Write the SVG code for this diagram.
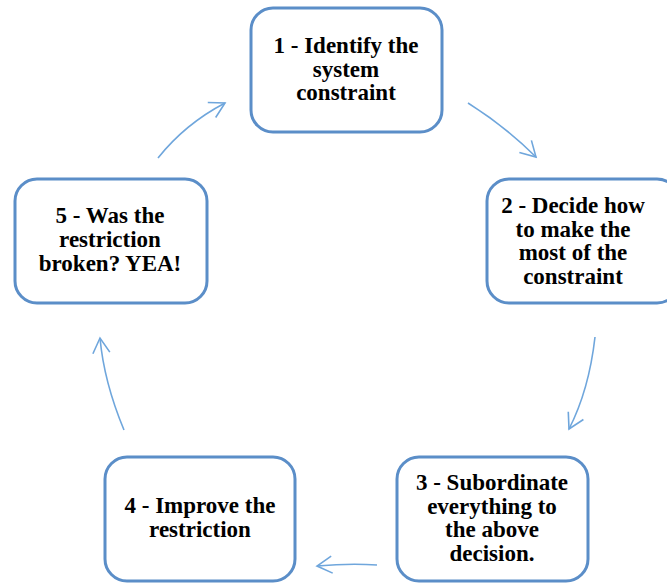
<svg xmlns="http://www.w3.org/2000/svg" width="667" height="583" viewBox="0 0 667 583">
<defs>
<style>
.box{fill:#ffffff;stroke:#5b8ec8;stroke-width:3}
.lbl{font-family:'Liberation Serif','Times New Roman',serif;font-weight:bold;font-size:23px;fill:#000000;text-anchor:middle}
.conn{fill:none;stroke:#6fa6dc;stroke-width:1.6}
</style>
<marker id="ah" markerUnits="userSpaceOnUse" markerWidth="40" markerHeight="40" refX="0" refY="0" viewBox="-20 -20 40 40" orient="auto" overflow="visible">
<path d="M-15,-8.5 L0,0 L-15,8.5" fill="none" stroke="#6fa6dc" stroke-width="1.6"/>
</marker>
</defs>
<rect width="667" height="583" fill="#ffffff"/>
<g id="connectors">
<path class="conn" d="M468,103 Q506,127 536,157" marker-end="url(#ah)"/>
<path class="conn" d="M595,337 Q589,390 569,429" marker-end="url(#ah)"/>
<path class="conn" d="M377,565 Q350,563 317,566" marker-end="url(#ah)"/>
<path class="conn" d="M124,430 Q104,382 100,338" marker-end="url(#ah)"/>
<path class="conn" d="M158,158 Q185,124 225,103" marker-end="url(#ah)"/>
</g>
<g id="node1">
<rect class="box" x="251" y="8" width="191" height="124" rx="22"/>
<text class="lbl" x="346" y="53">1 - Identify the</text>
<text class="lbl" x="346" y="77">system</text>
<text class="lbl" x="346" y="100">constraint</text>
</g>
<g id="node2">
<rect class="box" x="487" y="179" width="192" height="124" rx="22"/>
<text class="lbl" x="573" y="213">2 - Decide how</text>
<text class="lbl" x="573" y="237">to make the</text>
<text class="lbl" x="573" y="260">most of the</text>
<text class="lbl" x="573" y="284">constraint</text>
</g>
<g id="node3">
<rect class="box" x="397" y="457" width="191" height="124" rx="22"/>
<text class="lbl" x="492" y="490">3 - Subordinate</text>
<text class="lbl" x="492" y="514">everything to</text>
<text class="lbl" x="492" y="537">the above</text>
<text class="lbl" x="492" y="561">decision.</text>
</g>
<g id="node4">
<rect class="box" x="105" y="457" width="190" height="124" rx="22"/>
<text class="lbl" x="200" y="513">4 - Improve the</text>
<text class="lbl" x="200" y="537">restriction</text>
</g>
<g id="node5">
<rect class="box" x="15" y="179" width="192" height="124" rx="22"/>
<text class="lbl" x="110" y="223">5 - Was the</text>
<text class="lbl" x="110" y="247">restriction</text>
<text class="lbl" x="110" y="271">broken? YEA!</text>
</g>
</svg>
